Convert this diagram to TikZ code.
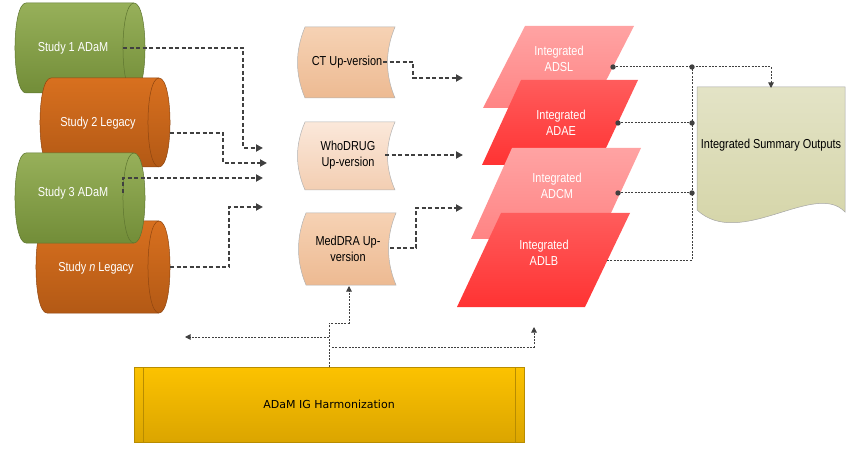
\documentclass[tikz,border=0pt]{standalone}
\usepackage{fontspec}
\newfontfamily\narrowsans{Liberation Sans}[FakeStretch=0.84]
\newfontfamily\dvsans{DejaVu Sans}
\usetikzlibrary{arrows.meta}
\definecolor{linegray}{HTML}{404040}
\definecolor{greenT}{HTML}{97B05A}
\definecolor{greenB}{HTML}{728D38}
\definecolor{greenD}{HTML}{5E7530}
\definecolor{orangeT}{HTML}{D8701F}
\definecolor{orangeB}{HTML}{B35915}
\definecolor{orangeD}{HTML}{8E4510}
\definecolor{tapeT}{HTML}{F6D2B4}
\definecolor{tapeB}{HTML}{EDBA92}
\definecolor{tapeLT}{HTML}{FBE8DA}
\definecolor{tapeLB}{HTML}{F3CEB2}
\definecolor{pinkT}{HTML}{FFA3A3}
\definecolor{pinkB}{HTML}{FF8484}
\definecolor{redT}{HTML}{FF5C5C}
\definecolor{redB}{HTML}{FF3333}
\definecolor{docT}{HTML}{E3E3C6}
\definecolor{docB}{HTML}{D3D3A4}
\definecolor{goldT}{HTML}{FCC200}
\definecolor{goldB}{HTML}{DBA500}
\definecolor{goldD}{HTML}{B88C00}
\tikzset{
  thickdash/.style={draw=linegray, line width=1.8pt, dash pattern=on 4pt off 2.5pt,
    -{Triangle[length=7pt,width=7pt]}},
  thindash/.style={draw=linegray, line width=1pt, dash pattern=on 2pt off 1.3pt},
  thinarrow/.style={thindash, -{Triangle[length=5.5pt,width=5.5pt]}},
  whitelabel/.style={text=white, font=\narrowsans\fontsize{13}{15.5}\selectfont, align=center, inner sep=0pt},
  blacklabel/.style={text=black, font=\narrowsans\fontsize{13}{15.5}\selectfont, align=center, inner sep=0pt},
  greencyl/.style={draw=greenD, line width=0.5pt, top color=greenT, bottom color=greenB},
  orangecyl/.style={draw=orangeD, line width=0.5pt, top color=orangeT, bottom color=orangeB},
  tape/.style={draw=black!30, line width=0.5pt, top color=tapeT, bottom color=tapeB},
  tapelight/.style={draw=black!30, line width=0.5pt, top color=tapeLT, bottom color=tapeLB},
  pinkpar/.style={top color=pinkT, bottom color=pinkB},
  redpar/.style={top color=redT, bottom color=redB},
}
\begin{document}
\begin{tikzpicture}[x=1pt,y=-1pt]
\useasboundingbox (0,0) rectangle (853,454);

% ---------- cylinders ----------
% Study 1
\path[greencyl] (26,3) -- (134,3) .. controls (148.7,3) and (148.7,93) .. (134,93) -- (26,93) .. controls (11.3,93) and (11.3,3) .. (26,3) -- cycle;
\draw[greenD, line width=0.5pt] (134,3) .. controls (119.3,3) and (119.3,93) .. (134,93);
\node[whitelabel] (s1) at (73,48) {Study 1 ADaM};
% Study 2
\path[orangecyl] (51,78) -- (159,78) .. controls (173.7,78) and (173.7,167) .. (159,167) -- (51,167) .. controls (36.3,167) and (36.3,78) .. (51,78) -- cycle;
\draw[orangeD, line width=0.5pt] (159,78) .. controls (144.3,78) and (144.3,167) .. (159,167);
\node[whitelabel] (s2) at (98,123) {Study 2 Legacy};
% Study n
\path[orangecyl] (47,221) -- (159,221) .. controls (173.7,221) and (173.7,313) .. (159,313) -- (47,313) .. controls (32.3,313) and (32.3,221) .. (47,221) -- cycle;
\draw[orangeD, line width=0.5pt] (159,221) .. controls (144.3,221) and (144.3,313) .. (159,313);
\node[whitelabel] (sn) at (96,268) {Study \textit{n} Legacy};
% Study 3
\path[greencyl] (26,153) -- (134,153) .. controls (148.7,153) and (148.7,243) .. (134,243) -- (26,243) .. controls (11.3,243) and (11.3,153) .. (26,153) -- cycle;
\draw[greenD, line width=0.5pt] (134,153) .. controls (119.3,153) and (119.3,243) .. (134,243);
\node[whitelabel] (s3) at (73,193) {Study 3 ADaM};

% ---------- tapes ----------
\path[tape] (305,27) -- (395,27) .. controls (385,51) and (385,74) .. (395,98) -- (305,98) .. controls (295,74) and (295,51) .. (305,27) -- cycle;
\node[blacklabel] (ct) at (347,62) {CT Up-version};
\path[tapelight] (305,122) -- (395,122) .. controls (385,145) and (385,167) .. (395,190) -- (305,190) .. controls (295,167) and (295,145) .. (305,122) -- cycle;
\node[blacklabel] (who) at (348,155) {WhoDRUG\\Up-version};
\path[tape] (306,213) -- (396,213) .. controls (386,237) and (386,261) .. (396,285) -- (306,285) .. controls (296,261) and (296,237) .. (306,213) -- cycle;
\node[blacklabel] (med) at (348,249) {MedDRA Up-\\version};

% ---------- parallelograms ----------
\path[pinkpar] (525,26) -- (634,26) -- (592,108) -- (483,108) -- cycle;
\node[whitelabel] (adsl) at (559,59) {Integrated\\ADSL};
\path[redpar] (521,80) -- (638,80) -- (598,165) -- (482,165) -- cycle;
\node[whitelabel] (adae) at (561,123) {Integrated\\ADAE};
\path[pinkpar] (512,148) -- (641,148) -- (599,239) -- (471,239) -- cycle;
\node[whitelabel] (adcm) at (557,186) {Integrated\\ADCM};
\path[redpar] (501,213) -- (630,213) -- (585,307) -- (457,307) -- cycle;
\node[whitelabel] (adlb) at (544,253) {Integrated\\ADLB};

% ---------- document ----------
\path[draw=black!35, line width=0.5pt, top color=docT, bottom color=docB]
  (697,87) -- (845,87) -- (845,212) .. controls (815,180) and (740,250) .. (697,210) -- cycle;
\node[blacklabel] (iso) at (771,145) {Integrated Summary Outputs};

% ---------- harmonization box ----------
\node[draw=goldD, line width=0.5pt, top color=goldT, bottom color=goldB,
      minimum width=390pt, minimum height=75pt, inner sep=0pt,
      font=\dvsans\fontsize{11}{13}\selectfont] (harm) at (329,404.5) {ADaM IG Harmonization};
\draw[goldD, line width=0.5pt] (143,367) -- (143,442) (515,367) -- (515,442);

% ---------- coordinates ----------
\coordinate (s1o) at (123,48);
\coordinate (s2o) at (170,133);
\coordinate (s3o) at (123,193);
\coordinate (sno) at (170,267);
\coordinate (in1) at (263,148);
\coordinate (in2) at (267,163);
\coordinate (in3) at (263,178);
\coordinate (in4) at (263,207);
\coordinate (cto) at (383,62);
\coordinate (whoo) at (385,155);
\coordinate (medo) at (390,248);
\coordinate (ctin) at (463,78);
\coordinate (whoin) at (463,155);
\coordinate (medin) at (463,208);
\coordinate (adslo) at (613,67);
\coordinate (adaeo) at (618,123);
\coordinate (adcmo) at (618,193);
\coordinate (adlbo) at (607,260);
\coordinate (j1) at (692,67);
\coordinate (j2) at (692,123);
\coordinate (j3) at (692,193);
\coordinate (docin) at (771,88);
\coordinate (hb) at (329,367);
\coordinate (medb) at (349,286);
\coordinate (leftin) at (185,337);
\coordinate (rightin) at (534,327);

% ---------- connectors ----------
\draw[thickdash] (s1o) -- ++(120,0) |- (in1);
\draw[thickdash] (s2o) -- ++(53,0) |- (in2);
\draw[thickdash] (s3o) |- (in3);
\draw[thickdash] (sno) -- ++(59,0) |- (in4);
\draw[thickdash] (cto) -- ++(30,0) |- (ctin);
\draw[thickdash] (whoo) -- (whoin);
\draw[thickdash] (medo) -- ++(26,0) |- (medin);

\draw[thinarrow] (adslo) -- (j1) -| (docin);
\draw[thindash] (adaeo) -- (j2);
\draw[thindash] (adcmo) -- (j3);
\draw[thindash] (adlbo) -| (j1);
\foreach \p in {adslo,j1,adaeo,j2,adcmo,j3}
  \fill[linegray] (\p) circle[radius=2.7];

\draw[thinarrow] (hb) -- (329,323) -| (medb);
\draw[thinarrow] (329,337) -- (leftin);
\draw[thinarrow] (332,347) -| (rightin);
\end{tikzpicture}
\end{document}
